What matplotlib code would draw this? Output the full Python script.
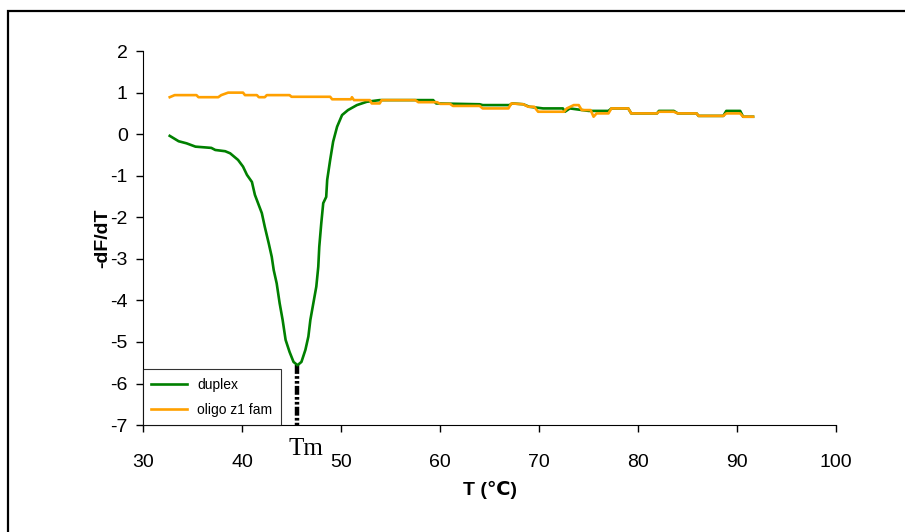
import numpy as np
import matplotlib
matplotlib.use("Agg")
import matplotlib.pyplot as plt
from matplotlib.patches import Rectangle

# curva de fusao (derivada)
t_duplex = [32.7, 33.6, 34.4, 35.3, 36.9, 37.3, 38.3, 38.8, 39.6, 40.1, 40.5, 41.0,
            41.3, 42.0, 42.3, 42.7, 43.0, 43.2, 43.5, 43.8, 44.1, 44.4, 44.8, 45.2,
            45.6, 46.0, 46.4, 46.7, 46.9, 47.2, 47.5, 47.7, 47.8, 48.0, 48.2, 48.5,
            48.6, 48.9, 49.2, 49.6, 50.1, 50.7, 51.6, 52.6, 53.9, 59.3, 59.6, 64.0,
            64.3, 67.0, 67.3, 68.4, 69.0, 70.4, 72.4, 72.6, 73.1, 75.0, 77.0, 77.3,
            79.0, 79.3, 81.9, 82.1, 83.6, 84.0, 85.9, 86.1, 88.6, 88.9, 90.3, 90.6, 91.6]
v_duplex = [-0.04, -0.17, -0.22, -0.30, -0.33, -0.38, -0.41, -0.46, -0.62, -0.78, -0.98, -1.15,
            -1.46, -1.90, -2.23, -2.63, -2.95, -3.27, -3.59, -4.07, -4.47, -4.95, -5.24, -5.48,
            -5.56, -5.48, -5.19, -4.87, -4.47, -4.07, -3.67, -3.19, -2.71, -2.15, -1.66, -1.51,
            -1.10, -0.62, -0.18, 0.18, 0.46, 0.58, 0.70, 0.78, 0.82, 0.82, 0.74, 0.72,
            0.70, 0.70, 0.74, 0.72, 0.66, 0.62, 0.62, 0.54, 0.62, 0.56, 0.56, 0.62,
            0.62, 0.50, 0.50, 0.56, 0.56, 0.50, 0.50, 0.44, 0.44, 0.56, 0.56, 0.42, 0.42]

t_oligo = [32.7, 33.2, 35.4, 35.6, 37.6, 37.9, 38.6, 40.1, 40.3, 41.5, 41.7, 42.3,
           42.5, 44.8, 45.0, 48.9, 49.1, 51.0, 51.1, 51.3, 52.9, 53.1, 53.9, 54.1,
           57.5, 57.8, 59.7, 60.0, 61.0, 61.3, 64.0, 64.3, 66.9, 67.2, 68.4, 68.9,
           69.5, 69.9, 72.5, 72.8, 73.5, 74.0, 74.3, 75.2, 75.5, 75.8, 77.0, 77.3,
           79.0, 79.3, 81.9, 82.1, 83.6, 84.0, 85.9, 86.1, 88.6, 88.9, 90.3, 90.6, 91.6]
v_oligo = [0.89, 0.94, 0.94, 0.89, 0.89, 0.94, 1.00, 1.00, 0.94, 0.94, 0.89, 0.89,
           0.94, 0.94, 0.90, 0.90, 0.84, 0.84, 0.89, 0.82, 0.82, 0.74, 0.74, 0.82,
           0.82, 0.77, 0.77, 0.73, 0.73, 0.68, 0.68, 0.62, 0.62, 0.74, 0.72, 0.66,
           0.66, 0.54, 0.54, 0.62, 0.70, 0.70, 0.58, 0.58, 0.42, 0.50, 0.50, 0.62,
           0.62, 0.50, 0.50, 0.54, 0.54, 0.50, 0.50, 0.44, 0.44, 0.50, 0.50, 0.42, 0.42]

tm_t = 45.6
tm_v = -5.56

x_ticks = [30, 40, 50, 60, 70, 80, 90, 100]
y_ticks = [-7, -6, -5, -4, -3, -2, -1, 0, 1, 2]

plt.rcParams['font.family'] = ['Liberation Sans', 'DejaVu Sans']
plt.rcParams['axes.unicode_minus'] = False

fig = plt.figure(figsize=(9.05, 5.32), dpi=100)
ax = fig.add_axes([0.158, 0.201, 0.766, 0.703])

# moldura externa
fig.patches.append(Rectangle((8 / 905, -0.05), 1.1, 0.979 + 0.05, transform=fig.transFigure,
                             fill=False, edgecolor='black', linewidth=1.6))

ax.plot(t_duplex, v_duplex, color='#008000', linewidth=1.9, label='duplex')
ax.plot(t_oligo, v_oligo, color='#FFA000', linewidth=1.9, label='oligo z1 fam')

# linha do Tm
ax.plot([tm_t, tm_t], [tm_v, -7], color='black', linewidth=3.2,
        linestyle=(0, (2.0, 0.5, 0.6, 0.5, 0.6, 0.5)), zorder=1)
ax.text(tm_t - 0.95, -7.72, 'Tm', ha='left', va='baseline', fontsize=18,
        family=['Liberation Serif', 'DejaVu Serif'], clip_on=False)

ax.set_xlim(30, 100)
ax.set_ylim(-7, 2)
ax.set_xticks(x_ticks)
ax.set_yticks(y_ticks)
ax.tick_params(direction='out', length=5, width=1, labelsize=14, pad=6)
ax.tick_params(axis='x', pad=16)
for s in ['top', 'right']:
    ax.spines[s].set_visible(False)

ax.set_xlabel('T (℃)', fontsize=14, fontweight='bold', labelpad=7)
ax.set_ylabel('-dF/dT', fontsize=14, fontweight='bold', labelpad=-1)

leg = ax.legend(loc='lower left', fontsize=10, frameon=True, fancybox=False,
                edgecolor='black', borderaxespad=0, handlelength=2.6,
                borderpad=0.6, labelspacing=0.8, handletextpad=0.7)
leg.get_frame().set_linewidth(0.8)

fig.savefig('out.png', dpi=100)
